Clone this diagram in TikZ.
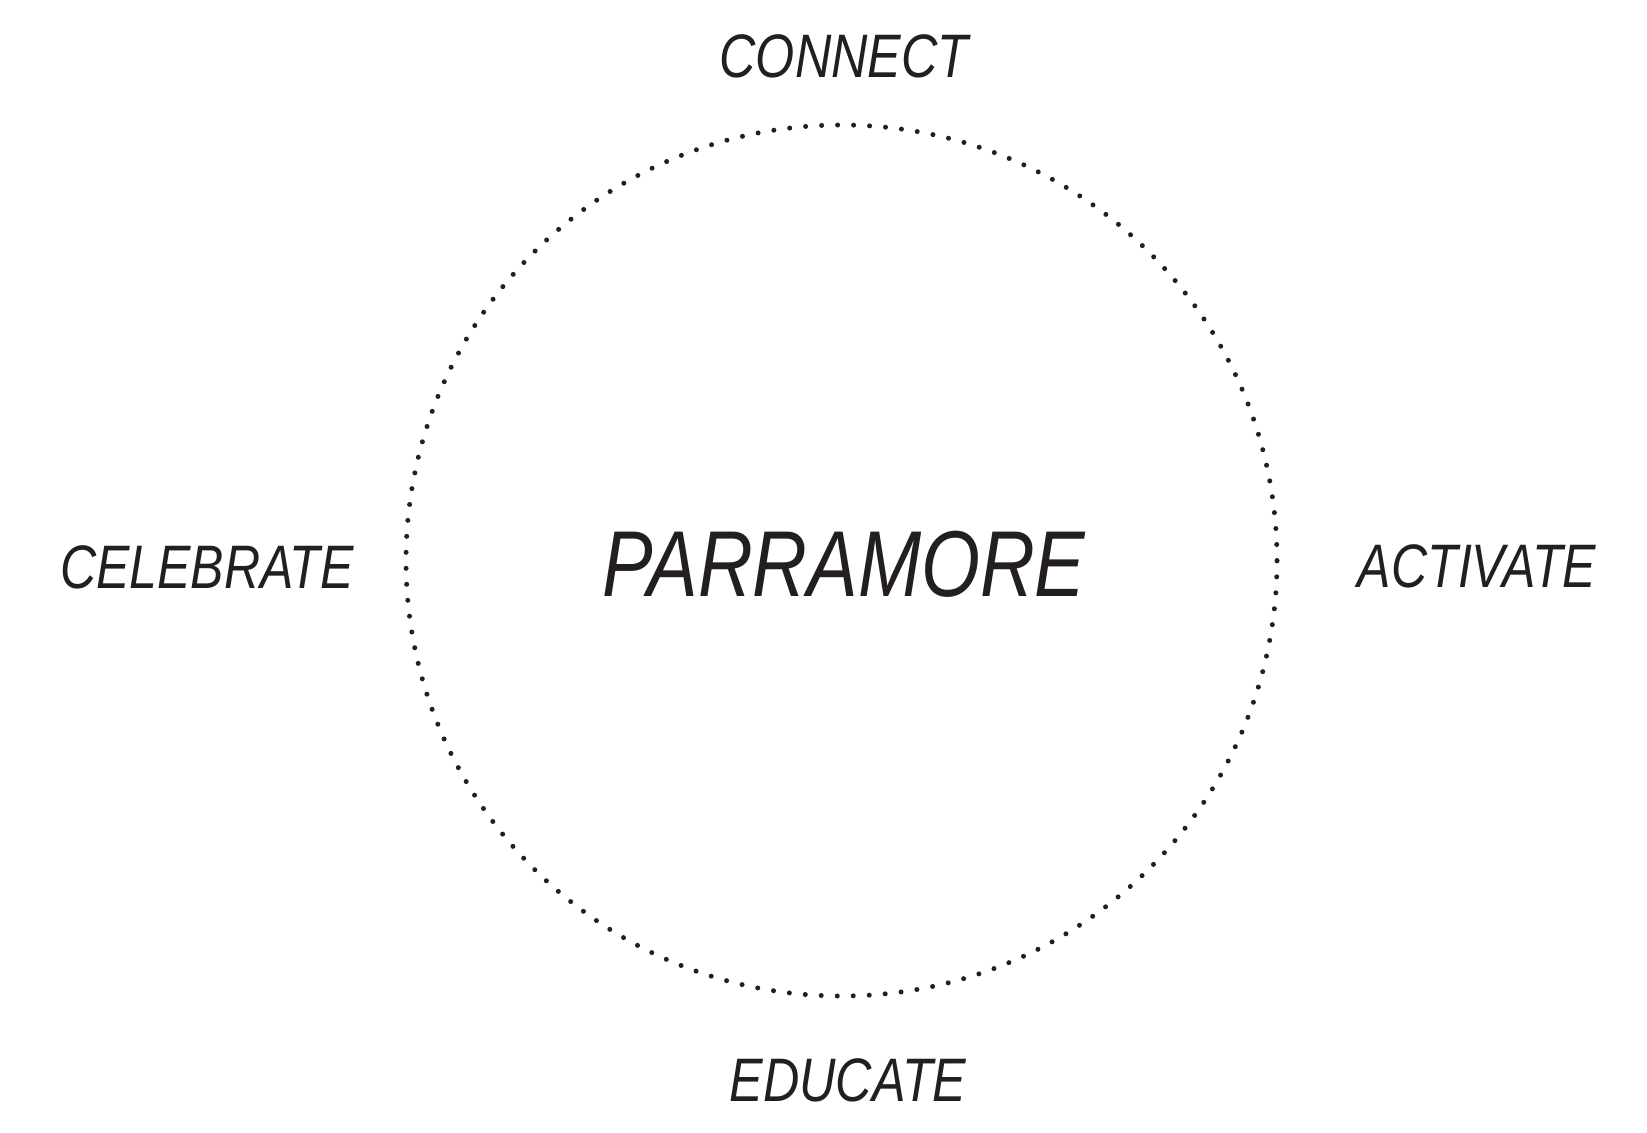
\documentclass[tikz,border=0pt]{standalone}
\usepackage{fontspec}
\setmainfont{Liberation Sans}
\newfontfamily\condA{Liberation Sans Italic}[FakeStretch=0.82]
\newfontfamily\condB{Liberation Sans Italic}[FakeStretch=0.815]
\newfontfamily\condC{Liberation Sans Italic}[FakeStretch=0.81]
\definecolor{ink}{HTML}{231F20}
\begin{document}
\begin{tikzpicture}[x=0.5pt,y=-0.5pt,
  lbl/.style={inner sep=0pt,anchor=base,text=ink},
  big/.style={lbl,font=\condC\fontsize{46.8}{50}\selectfont},
  tb/.style={lbl,font=\condA\fontsize{30.7}{34}\selectfont},
  side/.style={lbl,font=\condB\fontsize{30.7}{34}\selectfont},
  ring/.style={draw=ink,line width=2.5pt,line cap=round,dash pattern=on 0pt off 8.001pt}]
\useasboundingbox (0,0) rectangle (1647,1133);
\node[ring,circle,minimum size=435.5pt,inner sep=0pt] (ring) at (841.5,560.5) {};
\node[big] (center) at (844,596) {PARRAMORE};
\node[tb] (connect) at (844,78) {CONNECT};
\node[tb] (educate) at (848,1101) {EDUCATE};
\node[side] (celebrate) at (207,588) {CELEBRATE};
\node[side] (activate) at (1477,587) {ACTIVATE};
\end{tikzpicture}
\end{document}
